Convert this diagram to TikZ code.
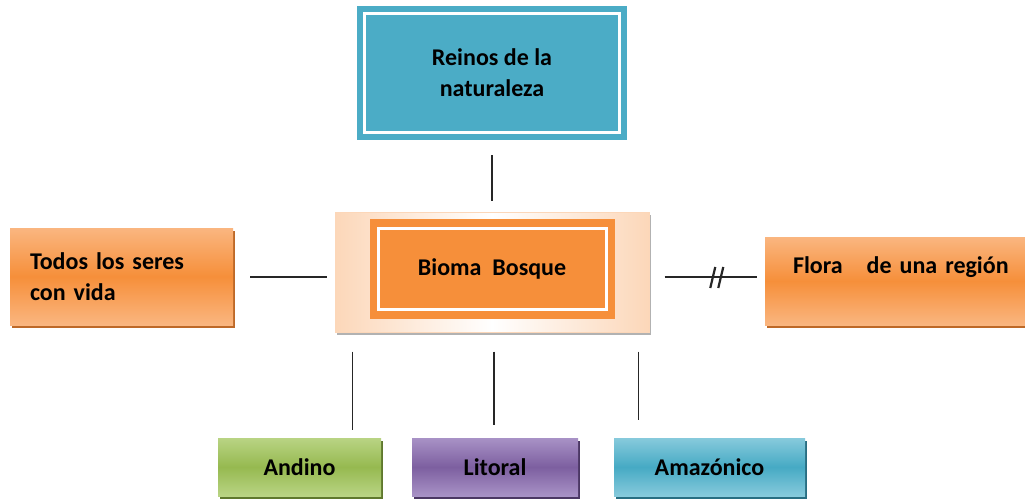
\documentclass[tikz,border=0pt]{standalone}
\usepackage{fontspec}
\setmainfont{Carlito}
\usetikzlibrary{shadows}
\usetikzlibrary{calc}
\definecolor{colorTeal}{RGB}{75,172,198}
\definecolor{colorOrange}{RGB}{246,143,58}
\definecolor{colorOrangeLight}{RGB}{250,182,128}
\definecolor{colorOrangeDark}{RGB}{190,105,40}
\definecolor{colorPeach}{RGB}{252,215,185}
\definecolor{colorGreen}{RGB}{150,185,80}
\definecolor{colorGreenLight}{RGB}{185,212,132}
\definecolor{colorGreenDark}{RGB}{95,120,45}
\definecolor{colorPurple}{RGB}{125,95,160}
\definecolor{colorPurpleLight}{RGB}{168,146,198}
\definecolor{colorPurpleDark}{RGB}{75,55,100}
\definecolor{colorBlue}{RGB}{70,170,196}
\definecolor{colorBlueLight}{RGB}{135,202,220}
\definecolor{colorBlueDark}{RGB}{40,110,130}
\tikzstyle{boxNode} = [rectangle, inner sep=0pt, font=\bfseries\fontsize{24}{31}\selectfont, text=black]
\tikzstyle{orangeNode} = [boxNode, top color=colorOrangeLight, bottom color=colorOrangeLight, middle color=colorOrange, drop shadow={shadow xshift=2pt, shadow yshift=-3pt, fill=colorOrangeDark, opacity=1}]
\tikzstyle{regionNode} = [boxNode, minimum height=58pt]
\tikzstyle{linkLine} = [line width=1.6pt, black!85]

\begin{document}
\begin{tikzpicture}[x=1pt, y=-1pt]
	\useasboundingbox[fill=white] (0,0) rectangle (1025,498);
	
	\node[boxNode, fill=colorTeal, minimum width=270pt, minimum height=134pt, align=center]at(492,73)(reinos){Reinos de la\\naturaleza};
	\draw[white, line width=3pt] ([shift={(8,8)}]reinos.north west) rectangle ([shift={(-8,-8)}]reinos.south east);
	
	\node[boxNode, draw=colorPeach, line width=1pt, left color=colorPeach, right color=colorPeach, middle color=white, minimum width=314pt, minimum height=120pt, drop shadow={shadow xshift=2pt, shadow yshift=-3pt, fill=black!30, opacity=1}]at([yshift=-199pt]reinos.center)(bioma-outer){};
	
	\node[boxNode, fill=colorOrange, minimum width=245pt, minimum height=100pt]at([yshift=3pt]bioma-outer.center)(bioma){Bioma\ \ Bosque};
	\draw[white, line width=3pt] ([shift={(9,10)}]bioma.north west) rectangle ([shift={(-8,-10)}]bioma.south east);
	
	\node[orangeNode, minimum height=97pt, inner xsep=20pt, text width=183pt, align=left]at(121.5,276.5)(todos){Todos los seres\\con vida};
	
	\node[orangeNode, minimum height=88pt, inner xsep=28pt, text width=240pt, align=left]at(913,281)(flora){Flora\ \ \ de una región\\\mbox{}};
	
	\node[regionNode, top color=colorGreenLight, bottom color=colorGreenLight, middle color=colorGreen, minimum width=163pt, drop shadow={shadow xshift=2pt, shadow yshift=-3pt, fill=colorGreenDark, opacity=1}]at(299.5,467)(andino){Andino};
	
	\node[regionNode, top color=colorPurpleLight, bottom color=colorPurpleLight, middle color=colorPurple, minimum width=166pt, drop shadow={shadow xshift=2pt, shadow yshift=-3pt, fill=colorPurpleDark, opacity=1}]at([xshift=195.5pt]andino.center)(litoral){Litoral};
	
	\node[regionNode, top color=colorBlueLight, bottom color=colorBlueLight, middle color=colorBlue, minimum width=191pt, drop shadow={shadow xshift=2pt, shadow yshift=-3pt, fill=colorBlueDark, opacity=1}]at([xshift=214.5pt]litoral.center)(amazonico){Amazónico};
	
	% connectors
	\draw[linkLine] ([shift={(0,15)}]reinos.south) -- ([shift={(0,-11)}]bioma-outer.north);
	\draw[linkLine] ($(todos.east |- bioma-outer.center)+(17,5)$) -- ($(bioma-outer.west)+(-8,5)$);
	\draw[linkLine] ($(bioma-outer.east)+(15,5)$) -- coordinate[pos=0.55](cut) ($(flora.west |- bioma-outer.center)+(-8,5)$);
	\draw[linkLine, line width=2.2pt] ([shift={(0,-10)}]cut) -- ([shift={(-5,11)}]cut);
	\draw[linkLine, line width=2.2pt] ([shift={(8,-10)}]cut) -- ([shift={(3,11)}]cut);
	
	\draw[linkLine] ([shift={(18,19)}]bioma-outer.south west) -- ([shift={(18,-8)}]bioma-outer.south west |- andino.north);
	\draw[linkLine] ([shift={(2,19)}]bioma-outer.south) -- ([shift={(2,-13)}]bioma-outer.south |- litoral.north);
	\draw[linkLine] ([shift={(-11,19)}]bioma-outer.south east) -- ([shift={(-11,-18)}]bioma-outer.south east |- amazonico.north);

\end{tikzpicture}
\end{document}
